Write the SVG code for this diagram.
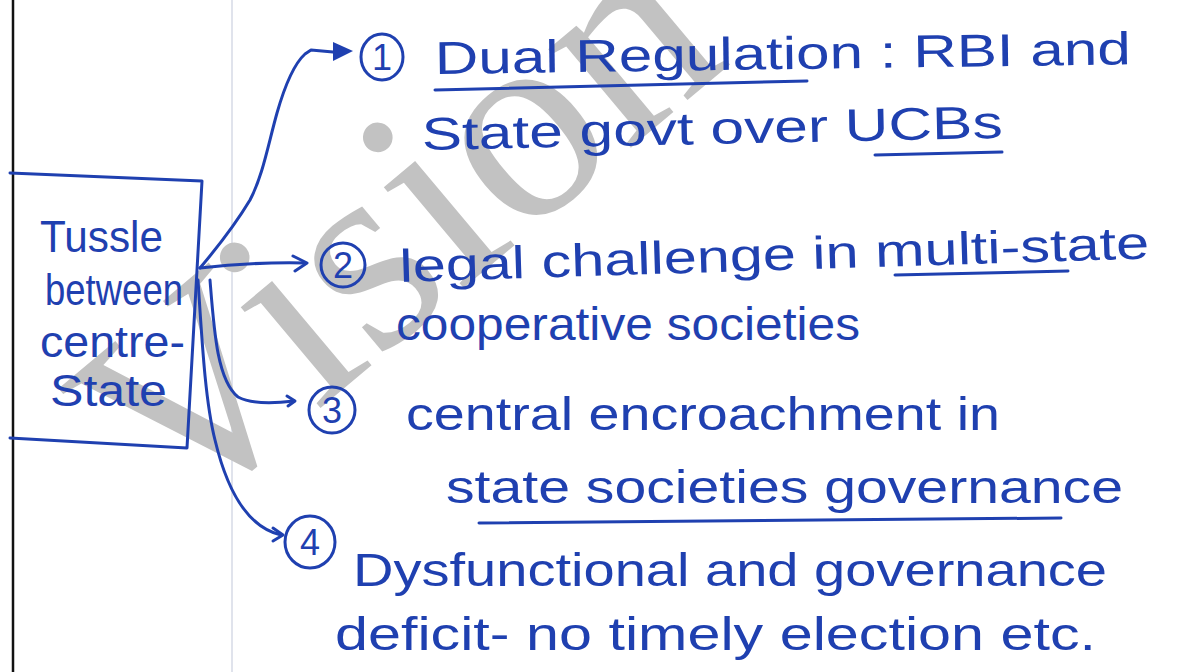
<svg xmlns="http://www.w3.org/2000/svg" width="1188" height="672" viewBox="0 0 1188 672">
  <style>
    .ink { fill: none; stroke: #1f40b0; stroke-width: 3; stroke-linecap: round; stroke-linejoin: round; }
    .txt { fill: #1f40b0; font-family: "Liberation Sans", Arial, sans-serif; font-size: 46px; }
    .box-txt { fill: #1f40b0; font-family: "Liberation Sans", Arial, sans-serif; font-size: 44px; }
    .num { fill: #1f40b0; font-family: "Liberation Sans", Arial, sans-serif; font-size: 36px; text-anchor: middle; }
    .wm { fill: #c2c2c2; font-family: "Liberation Serif", "Times New Roman", serif; font-size: 280px; }
  </style>
  <rect x="0" y="0" width="1188" height="672" fill="#ffffff"/>

  <!-- page lines -->
  <g id="page">
    <line x1="13" y1="0" x2="13" y2="672" stroke="#111111" stroke-width="2.5"/>
    <line x1="232" y1="0" x2="232" y2="672" stroke="#d6dae6" stroke-width="1.5"/>
  </g>

  <!-- watermark -->
  <g id="watermark">
    <text class="wm" transform="translate(174,531) rotate(-40)" x="0" y="0">Vision</text>
  </g>

  <!-- central node -->
  <g id="node-tussle">
    <path class="ink" d="M10,173 L202,181 L187,448 L10,438"/>
    <text class="box-txt" x="40" y="252" textLength="123" lengthAdjust="spacingAndGlyphs">Tussle</text>
    <text class="box-txt" x="45" y="305" textLength="138" lengthAdjust="spacingAndGlyphs">between</text>
    <text class="box-txt" x="40" y="357" textLength="145" lengthAdjust="spacingAndGlyphs">centre-</text>
    <text class="box-txt" x="50" y="406" textLength="117" lengthAdjust="spacingAndGlyphs">State</text>
  </g>

  <!-- connectors -->
  <g id="connectors">
    <path class="ink" d="M200,268 Q232,230 250,200 C263,175 268,145 277,113 C285,85 294,64 305,54 L311,50 L333,52"/>
    <path d="M333,42 L353,51 L333,61 Z" fill="#1f40b0"/>
    <path class="ink" d="M200,268 Q250,262 305,263"/>
    <path class="ink" d="M293,256 L307,263 L295,271"/>
    <path class="ink" d="M210,280 C214,330 217,380 238,397 Q255,406 294,401"/>
    <path class="ink" d="M287,396 L295,401 L288,406"/>
    <path class="ink" d="M198,280 C202,340 205,400 215,440 C226,486 246,527 281,535"/>
    <path class="ink" d="M273,528 L283,535 L273,541"/>
  </g>

  <!-- item 1 -->
  <g id="item-1">
    <ellipse class="ink" cx="382" cy="57" rx="21" ry="23"/>
    <text class="num" x="382" y="70">1</text>
    <text class="txt" x="435" y="74" textLength="696" lengthAdjust="spacingAndGlyphs" transform="rotate(-0.8 435 74)">Dual Regulation : RBI and</text>
    <path class="ink" d="M435,90 L807,81"/>
    <text class="txt" x="422" y="150" textLength="581" lengthAdjust="spacingAndGlyphs" transform="rotate(-1.2 422 150)">State govt over UCBs</text>
    <path class="ink" d="M875,155 L1002,152"/>
  </g>

  <!-- item 2 -->
  <g id="item-2">
    <ellipse class="ink" cx="343" cy="265" rx="22" ry="22"/>
    <text class="num" x="343" y="278">2</text>
    <text class="txt" x="400" y="282" textLength="750" lengthAdjust="spacingAndGlyphs" transform="rotate(-1.8 400 282)">legal challenge in multi-state</text>
    <path class="ink" d="M895,275 L1068,271"/>
    <text class="txt" x="396" y="340" textLength="464" lengthAdjust="spacingAndGlyphs">cooperative societies</text>
  </g>

  <!-- item 3 -->
  <g id="item-3">
    <ellipse class="ink" cx="332" cy="410" rx="23" ry="23"/>
    <text class="num" x="332" y="423">3</text>
    <text class="txt" x="406" y="430" textLength="594" lengthAdjust="spacingAndGlyphs">central encroachment in</text>
    <text class="txt" x="446" y="503" textLength="677" lengthAdjust="spacingAndGlyphs">state societies governance</text>
    <path class="ink" d="M479,523 L1061,518"/>
  </g>

  <!-- item 4 -->
  <g id="item-4">
    <ellipse class="ink" cx="310" cy="542" rx="25" ry="26"/>
    <text class="num" x="310" y="555">4</text>
    <text class="txt" x="353" y="586" textLength="754" lengthAdjust="spacingAndGlyphs">Dysfunctional and governance</text>
    <text class="txt" x="335" y="650" textLength="761" lengthAdjust="spacingAndGlyphs">deficit- no timely election etc.</text>
  </g>
</svg>
